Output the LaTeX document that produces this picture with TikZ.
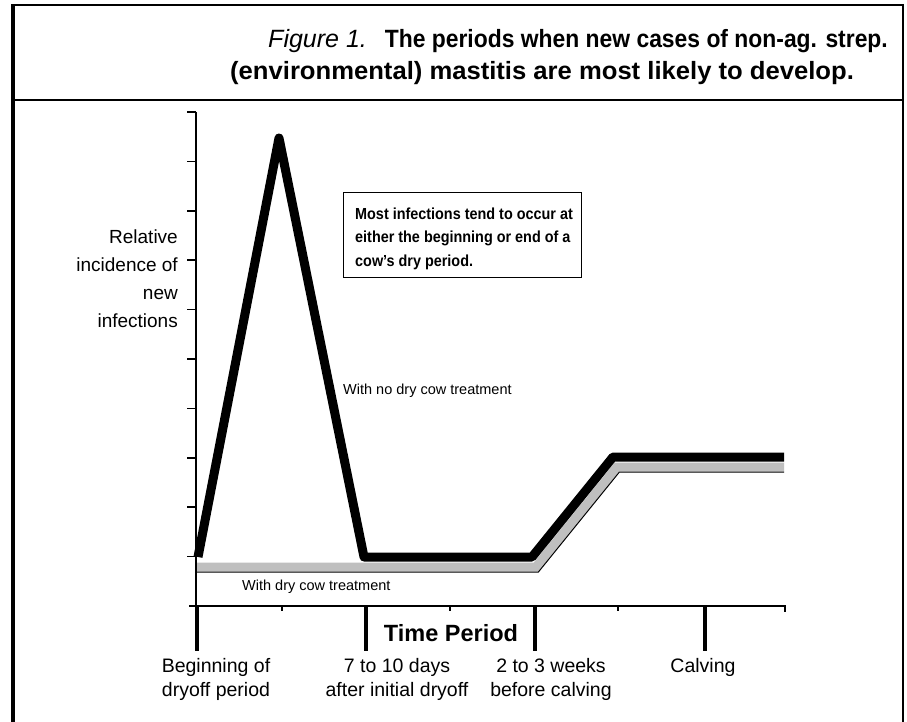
\documentclass[tikz,border=0pt]{standalone}
\usepackage{fontspec}
\setmainfont{Liberation Sans}
\begin{document}
\begin{tikzpicture}[x=1pt,y=-1pt,
  titletext/.style={font=\fontsize{25}{30}\selectfont\bfseries, inner sep=0pt},
  ylabel/.style={font=\fontsize{19}{28}\selectfont, align=right, inner sep=0pt},
  notetext/.style={font=\fontsize{16}{23.5}\selectfont\bfseries, align=left, inner sep=0pt},
  smalltext/.style={font=\fontsize{14.5}{17}\selectfont, inner sep=0pt},
  periodtext/.style={font=\fontsize{19.5}{24}\selectfont, align=center, inner sep=0pt},
  axisline/.style={line width=1.5pt},
  majortick/.style={line width=4.5pt},
  minortick/.style={line width=1.5pt},
  curve/.style={line width=9pt, line join=round},
  bandfill/.style={line width=9pt, color=black!25},
  bandedge/.style={line width=1pt}
]
\useasboundingbox (0,0) rectangle (907,722);
\fill[white] (0,0) rectangle (907,722);
% frame
\draw[line width=4pt] (13,722) -- (13,4);
\draw[line width=2.5pt] (11,5) -- (904,5);
\draw[line width=2pt] (903,4) -- (903,722);
\draw[line width=1.2pt] (13,100) -- (903,100);
% title
\node[titletext, anchor=base east] (t1) at (888,48) {{\mdseries\itshape Figure 1.}\hspace{18pt}\scalebox{0.915}[1]{The periods when new cases of non-ag. strep.}};
\node[titletext, anchor=base west] (t2) at (230,80) {\scalebox{1.025}[1]{(environmental) mastitis are most likely to develop.}};
% axes
\coordinate (ytop) at (196,112);
\coordinate (orig) at (196,606);
\draw[axisline] (ytop) -- (orig);
\foreach \k in {0,...,9} {
  \draw[axisline] (187,112+49.4*\k) -- (196,112+49.4*\k);
}
\coordinate (xl) at (189,606);
\coordinate (xr) at (786,606);
\draw[axisline] (xl) -- (xr);
\foreach \x in {197,366,535,705} {
  \draw[majortick] (\x,606) -- (\x,651);
}
\foreach \x in {282,450,618} {
  \draw[minortick] (\x,606) -- (\x,611);
}
\draw[minortick] (785,606) -- (785,612);
% y label (base anchor = last line)
\node[ylabel, anchor=base east] (yl) at (178,327) {Relative\\incidence of\\new\\infections};
% note box
\node[draw, line width=0.9pt, anchor=north west, minimum width=238pt, minimum height=85pt, inner sep=0pt] (box) at (343,192) {};
\node[notetext, anchor=base west] (note) at (355,266) {\scalebox{0.9}[1]{Most infections tend to occur at}\\\scalebox{0.9}[1]{either the beginning or end of a}\\\scalebox{0.9}[1]{cow’s dry period.}};
% curves
\draw[bandfill] (197,567) -- (536,567) -- (617,467) -- (784,467);
\draw[bandedge] (197,572) -- (538.4,572) -- (619.4,472) -- (784,472);
\draw[curve] (198,557) -- (279,138) -- (364,557) -- (532,557) -- (613,457) -- (784,457);
\node[smalltext, anchor=base west] (nolab) at (343,394) {With no dry cow treatment};
\node[smalltext, anchor=base west] (drylab) at (242,590) {With dry cow treatment};
% x labels
\node[font=\fontsize{23.5}{28}\selectfont\bfseries, anchor=base, inner sep=0pt] (tp) at (451,641) {Time Period};
\node[periodtext, anchor=base] (p1) at (216,696) {Beginning of\\dryoff period};
\node[periodtext, anchor=base] (p2) at (397,696) {7 to 10 days\\after initial dryoff};
\node[periodtext, anchor=base] (p3) at (551,696) {2 to 3 weeks\\before calving};
\node[periodtext, anchor=base] (p4) at (703,672) {Calving};
\end{tikzpicture}
\end{document}
